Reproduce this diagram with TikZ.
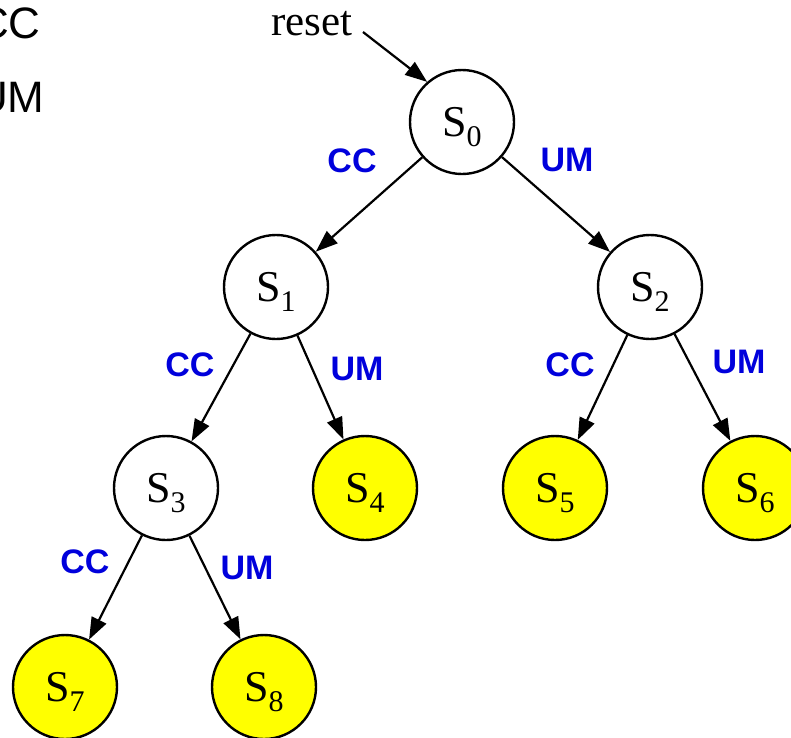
\documentclass[tikz,border=0pt]{standalone}
\usepackage{fontspec}
\setmainfont{Liberation Serif}
\newfontfamily\labelsans{Liberation Sans}
\usetikzlibrary{arrows.meta}
\definecolor{labelblue}{RGB}{0,0,220}
\definecolor{leafyellow}{RGB}{255,255,0}
% state name: large S with a lowered index that does not change the box height
\newcommand\statelbl[1]{{\fontsize{44}{44}\selectfont S\smash{\raisebox{-10pt}{\fontsize{30}{30}\selectfont #1}}}}

\begin{document}
\begin{tikzpicture}[x=1pt,y=-1pt,
  state/.style={circle, draw, line width=2.4pt, minimum size=104pt, inner sep=0pt, fill=white},
  leaf/.style={state, fill=leafyellow},
  trans/.style={line width=2.2pt, -{Triangle[length=22pt,width=16pt]}},
  choice/.style={text=labelblue, font=\labelsans\bfseries\fontsize{34}{34}\selectfont, inner sep=0pt},
  legend/.style={font=\labelsans\fontsize{44}{44}\selectfont, anchor=base west, inner sep=0pt}]
  \clip (0,0) rectangle (791,737);
  \fill[white] (0,0) rectangle (791,737);

  % legend of the two choices
  \node[legend] (legcc) at (-23,38) {CC};
  \node[legend] (legum) at (-24,112) {UM};

  % states of the tree
  \node[state] (s0) at (462,122) {\raisebox{-2pt}{\statelbl{0}}};
  \node[state] (s1) at (276,287) {\raisebox{-2pt}{\statelbl{1}}};
  \node[state] (s2) at (650,287) {\raisebox{-2pt}{\statelbl{2}}};
  \node[state] (s3) at (166,488) {\raisebox{-2pt}{\statelbl{3}}};
  \node[leaf]  (s4) at (365,488) {\raisebox{-2pt}{\statelbl{4}}};
  \node[leaf]  (s5) at (555,488) {\raisebox{-2pt}{\statelbl{5}}};
  \node[leaf]  (s6) at (755,488) {\raisebox{-2pt}{\statelbl{6}}};
  \node[leaf]  (s7) at (65,687)  {\raisebox{-2pt}{\statelbl{7}}};
  \node[leaf]  (s8) at (264,687) {\raisebox{-2pt}{\statelbl{8}}};

  % reset entry
  \node[font=\fontsize{43}{43}\selectfont, anchor=base, inner sep=0pt] (reset) at (312,35) {reset};
  \coordinate (rs) at (363,32);
  \draw[trans] (rs) -- (s0.131);

  % transitions
  \draw[trans] (s0) -- (s1);
  \draw[trans] (s0) -- (s2);
  \draw[trans] (s1) -- (s3);
  \draw[trans] (s1) -- (s4);
  \draw[trans] (s2) -- (s5);
  \draw[trans] (s2) -- (s6);
  \draw[trans] (s3) -- (s7);
  \draw[trans] (s3) -- (s8);

  % transition labels
  \node[choice] (c01) at (352,161) {CC};
  \node[choice] (u02) at (567,160) {UM};
  \node[choice] (c13) at (190,365) {CC};
  \node[choice] (u14) at (357,369) {UM};
  \node[choice] (c25) at (570,365) {CC};
  \node[choice] (u26) at (739,362) {UM};
  \node[choice] (c37) at (85,562)  {CC};
  \node[choice] (u38) at (247,568) {UM};
\end{tikzpicture}
\end{document}
